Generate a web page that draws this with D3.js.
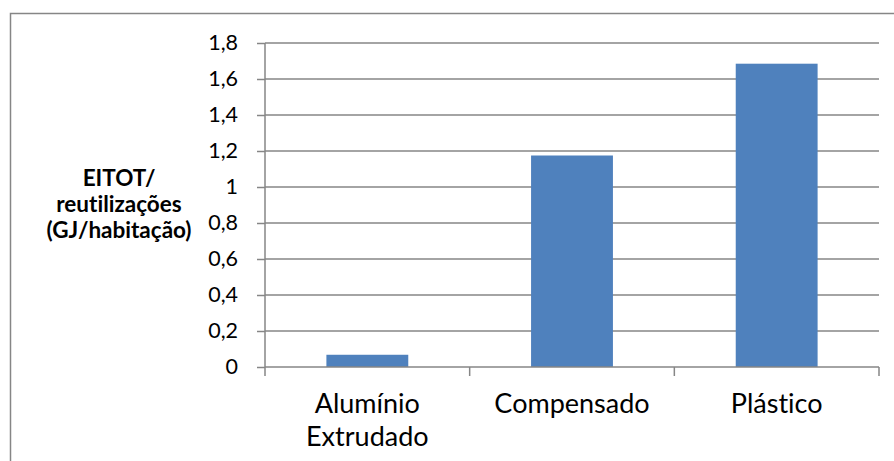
<!DOCTYPE html>
<html>
<head>
    <script src="https://d3js.org/d3.v7.min.js"></script>
    <style>
        body { margin: 0; background: #fff; font-family: Lato, "Open Sans", sans-serif; }
        svg text { font-variant-ligatures: none; }
        .grid line { stroke: #868686; stroke-width: 1.5px; }
        .axis path, .axis line { stroke: #868686; stroke-width: 1.5px; }
        .axis text { font-family: Lato, sans-serif; font-size: 21.5px; fill: #000; }
        .axis .xlabel { font-size: 27px; }
    </style>
</head>
<body>
<script>
    // data
    var categories = [["Alumínio", "Extrudado"], ["Compensado"], ["Plástico"]];
    var values = [0.068, 1.175, 1.685];
    var yTicks = [0, 0.2, 0.4, 0.6, 0.8, 1, 1.2, 1.4, 1.6, 1.8];
    var yTitle = ["EITOT/", "reutilizações", "(GJ/habitação)"];

    var W = 894, H = 461;
    var margin = {top: 43, left: 265, right: 15, bottom: 94};
    var width = W - margin.left - margin.right,
        height = H - margin.top - margin.bottom;

    var svg = d3.select("body").append("svg")
        .attr("width", W)
        .attr("height", H);

    // outer chart border
    svg.append("rect")
        .attr("x", 10.5).attr("y", 13.5)
        .attr("width", W).attr("height", H)
        .attr("fill", "none")
        .attr("stroke", "#868686")
        .attr("stroke-width", 1.5);

    var g = svg.append("g")
        .attr("transform", "translate(" + margin.left + "," + margin.top + ")");

    var keys = categories.map(function(c) { return c.join(" "); });

    var x = d3.scaleBand()
        .domain(keys)
        .range([0, width])
        .paddingInner(0.6)
        .paddingOuter(0.3);
    var xBand = d3.scaleBand().domain(keys).range([0, width]);

    var y = d3.scaleLinear()
        .domain([0, 1.8])
        .range([height, 0]);

    // gridlines
    g.append("g")
        .attr("class", "grid")
        .selectAll("line")
        .data(yTicks.filter(function(d) { return d > 0; }))
        .enter().append("line")
        .attr("x1", 0).attr("x2", width)
        .attr("y1", function(d) { return y(d); })
        .attr("y2", function(d) { return y(d); });

    // bars
    g.selectAll(".bar")
        .data(values)
        .enter().append("rect")
        .attr("class", "bar")
        .attr("fill", "#4F81BD")
        .attr("x", function(d, i) { return x(keys[i]); })
        .attr("width", x.bandwidth())
        .attr("y", function(d) { return y(d); })
        .attr("height", function(d) { return height - y(d); });

    // y axis
    var yAxis = g.append("g")
        .attr("class", "axis")
        .call(d3.axisLeft(y)
            .tickValues(yTicks)
            .tickSize(8)
            .tickPadding(19)
            .tickFormat(function(d) { return String(d).replace(".", ","); }));
    yAxis.select(".domain").attr("d", "M0,0V" + height);

    // x axis with ticks on band boundaries
    var xAxis = g.append("g")
        .attr("class", "axis")
        .attr("transform", "translate(0," + height + ")");
    xAxis.append("line")
        .attr("x1", 0).attr("x2", width);
    xAxis.selectAll(".xtick")
        .data(keys.concat(["end"]))
        .enter().append("line")
        .attr("class", "xtick")
        .attr("x1", function(d, i) { return i < keys.length ? xBand(d) : width; })
        .attr("x2", function(d, i) { return i < keys.length ? xBand(d) : width; })
        .attr("y1", 0).attr("y2", 9);

    var xLabels = xAxis.selectAll(".xlabel")
        .data(categories)
        .enter().append("text")
        .attr("class", "xlabel")
        .attr("text-anchor", "middle")
        .attr("x", function(d, i) { return xBand(keys[i]) + xBand.bandwidth() / 2; });
    xLabels.selectAll("tspan")
        .data(function(d) { return d; })
        .enter().append("tspan")
        .attr("x", function() { return d3.select(this.parentNode).attr("x"); })
        .attr("y", function(d, i) { return 46 + i * 33; })
        .text(function(d) { return d; });

    // y axis title
    svg.append("text")
        .attr("text-anchor", "middle")
        .style("font-family", "Lato, sans-serif")
        .style("font-weight", "bold")
        .style("font-size", "22.5px")
        .selectAll("tspan")
        .data(yTitle)
        .enter().append("tspan")
        .attr("x", 119)
        .attr("y", function(d, i) { return 186 + i * 26; })
        .text(function(d) { return d; });
</script>
</body>
</html>
